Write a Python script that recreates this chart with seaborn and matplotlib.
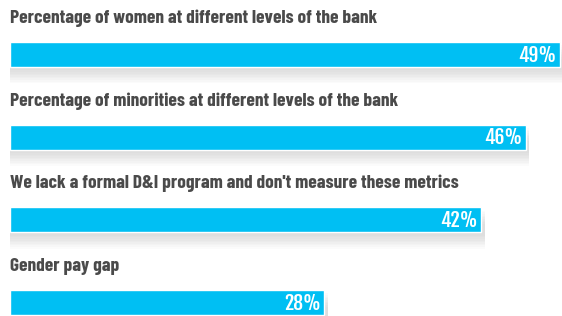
import numpy as np
import pandas as pd
import matplotlib
matplotlib.use("Agg")
import matplotlib.pyplot as plt
import seaborn as sns

# data
questions = [
    "Percentage of women at different levels of the bank",
    "Percentage of minorities at different levels of the bank",
    "We lack a formal D&I program and don't measure these metrics",
    "Gender pay gap",
]
percent = [49, 46, 42, 28]

df = pd.DataFrame({"question": questions, "percent": percent})

sns.set_style("white")
plt.rcParams["font.family"] = ["Barlow Condensed", "DejaVu Sans"]

fig = plt.figure(figsize=(5.62, 3.16), dpi=100)
ax = fig.add_axes([0, 0, 1, 1])

pos = np.arange(len(df))

# soft shadow under the bars
for k in range(9):
    ax.barh(pos + 0.04 + k * 0.02, df["percent"] + 0.3, height=0.30,
            color="#8a8a8a", alpha=0.03, linewidth=0, zorder=1)

sns.barplot(data=df, x="percent", y="question", orient="h", color="#00BFF3",
            saturation=1, width=0.30, ax=ax, zorder=3)

for i, (q, v) in enumerate(zip(df["question"], df["percent"])):
    ax.text(0, i - 0.44, q, ha="left", va="center", fontsize=14,
            fontweight="bold", color="#4a4a4a")
    ax.text(v - 0.3, i + 0.01, f"{v}%", ha="right", va="center", fontsize=14,
            family=["Fjalla One", "DejaVu Sans"], color="white", zorder=4)

ax.set_xlim(-0.891, 49.2)
ax.set_ylim(3.163, -0.659)
ax.axis("off")

fig.savefig("out.png", dpi=100)
